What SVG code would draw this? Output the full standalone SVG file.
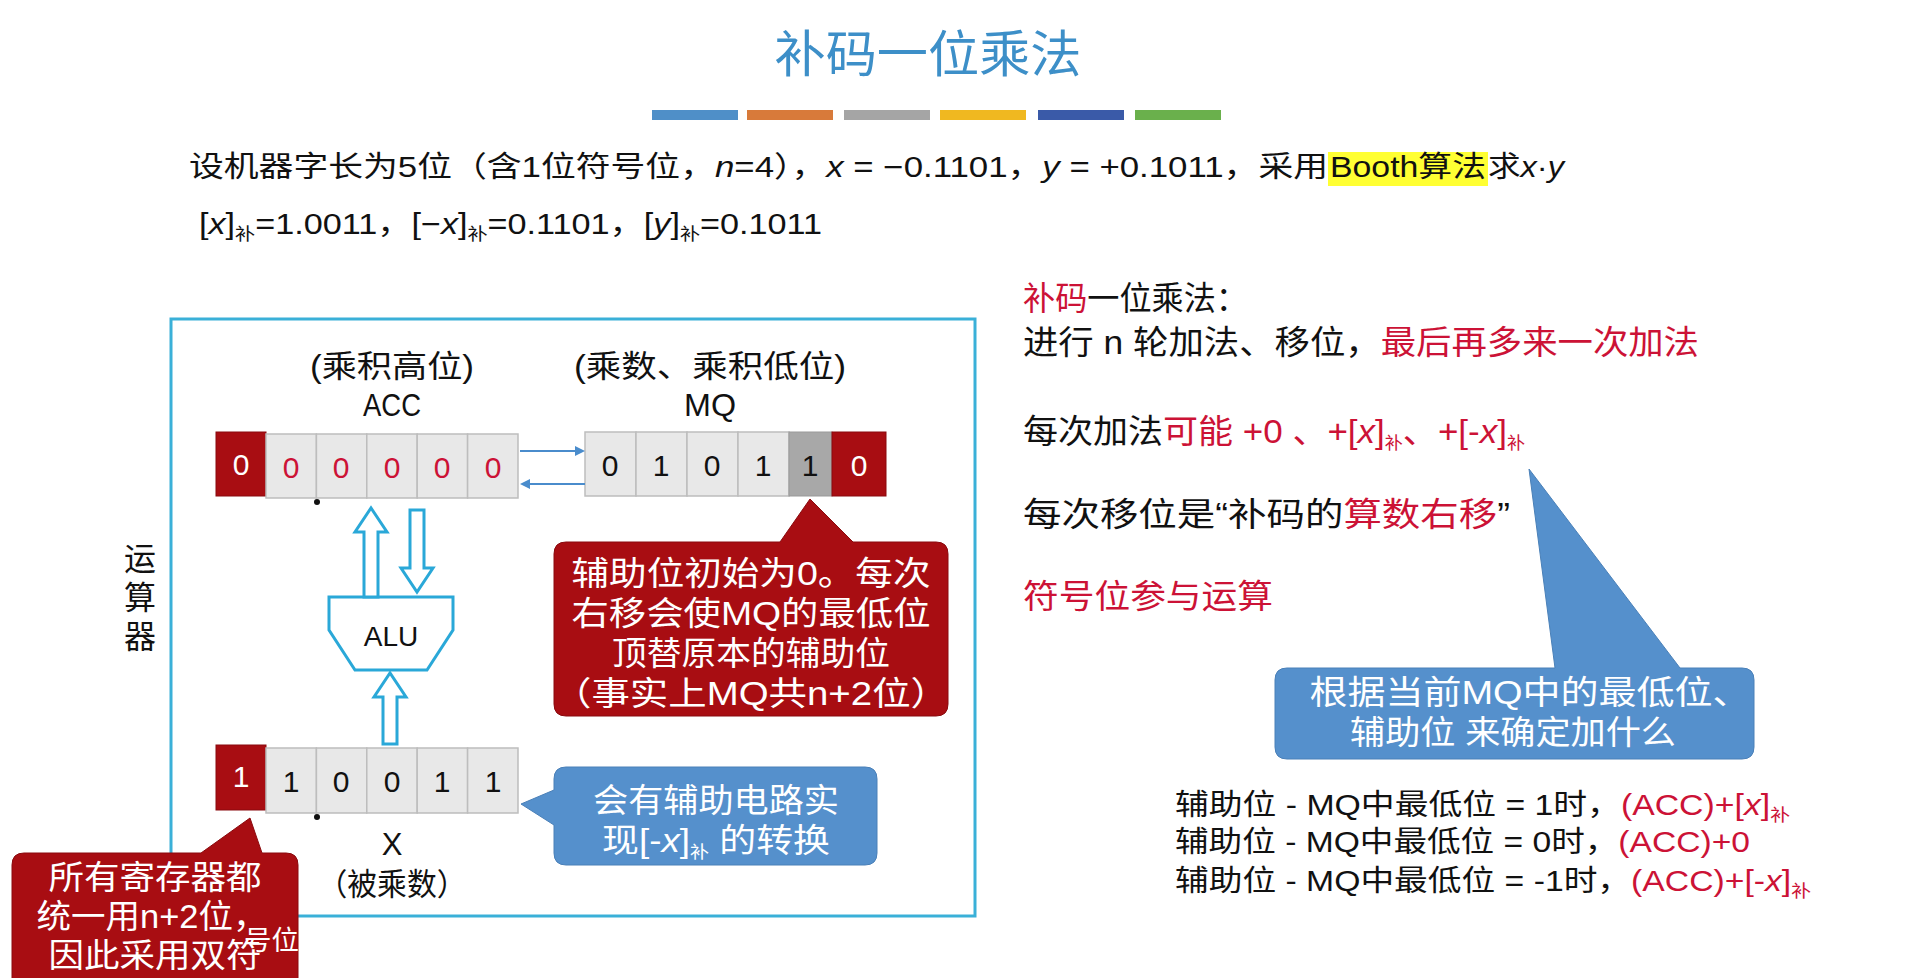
<svg xmlns="http://www.w3.org/2000/svg" width="1910" height="978" viewBox="0 0 1910 978">
<style>
text{font-family:"Liberation Sans","Noto Sans CJK SC",sans-serif;fill:#111}
.t{font-size:29px}
.n{font-size:33px}
.l{font-size:31px}
.k{font-size:33px}
.r{fill:#cc1236}
.w{fill:#fff}
.c{text-anchor:middle}
.cell{fill:#e8e8e8;stroke:#bdbdbd;stroke-width:1.5}
.red{fill:#a80d12;stroke:#8a0a0e;stroke-width:1}
.dig{font-size:30px;text-anchor:middle}
.hol{fill:#fff;stroke:#2aa8d8;stroke-width:3}
.sub{font-size:17px}
</style>
<rect width="1910" height="978" fill="#fff"/>
<g id="title">
<text x="928" y="72" class="c" style="font-size:50px;fill:#3d8fc8" textLength="307" lengthAdjust="spacingAndGlyphs">补码一位乘法</text>
<rect x="652" y="110" width="86" height="10" fill="#4f8fc8"/>
<rect x="747" y="110" width="86" height="10" fill="#d87a3a"/>
<rect x="844" y="110" width="86" height="10" fill="#a5a5a5"/>
<rect x="940" y="110" width="86" height="10" fill="#f0b820"/>
<rect x="1038" y="110" width="86" height="10" fill="#3a5aa8"/>
<rect x="1135" y="110" width="86" height="10" fill="#6ab04c"/>
</g>
<g id="problem">
<rect x="1328" y="152" width="160" height="34" fill="#ffff33"/>
<text x="189" y="177" class="t" textLength="1139" lengthAdjust="spacingAndGlyphs">设机器字长为5位（含1位符号位，<tspan font-style="italic">n</tspan>=4），<tspan font-style="italic">x</tspan> = −0.1101，<tspan font-style="italic">y</tspan> = +0.1011，采用</text>
<text x="1330" y="177" class="t" textLength="156" lengthAdjust="spacingAndGlyphs">Booth算法</text>
<text x="1488" y="177" class="t" textLength="76" lengthAdjust="spacingAndGlyphs">求<tspan font-style="italic">x</tspan>·<tspan font-style="italic">y</tspan></text>
<text x="199" y="234" class="t" textLength="623" lengthAdjust="spacingAndGlyphs">[<tspan font-style="italic">x</tspan>]<tspan class="sub" dy="6">补</tspan><tspan dy="-6">=1.0011，[−</tspan><tspan font-style="italic">x</tspan>]<tspan class="sub" dy="6">补</tspan><tspan dy="-6">=0.1101，[</tspan><tspan font-style="italic">y</tspan>]<tspan class="sub" dy="6">补</tspan><tspan dy="-6">=0.1011</tspan></text>
</g>
<g id="alu-box">
<rect x="171" y="319" width="804" height="597" fill="none" stroke="#3ab0d8" stroke-width="3"/>
<text x="140" y="570" class="c" style="font-size:32px">运</text>
<text x="140" y="609" class="c" style="font-size:32px">算</text>
<text x="140" y="648" class="c" style="font-size:32px">器</text>
</g>
<g id="acc">
<text x="392" y="377" class="c l" textLength="164" lengthAdjust="spacingAndGlyphs">(乘积高位)</text>
<text x="392" y="416" class="c l" textLength="58" lengthAdjust="spacingAndGlyphs">ACC</text>
<rect x="216" y="432" width="50" height="64" class="red"/>
<text x="241" y="475" class="dig w">0</text>
<rect x="266" y="434" width="50.4" height="64" class="cell"/>
<rect x="316.4" y="434" width="50.4" height="64" class="cell"/>
<rect x="366.8" y="434" width="50.4" height="64" class="cell"/>
<rect x="417.2" y="434" width="50.4" height="64" class="cell"/>
<rect x="467.6" y="434" width="50.4" height="64" class="cell"/>
<text x="291" y="478" class="dig r">0</text>
<text x="341" y="478" class="dig r">0</text>
<text x="392" y="478" class="dig r">0</text>
<text x="442" y="478" class="dig r">0</text>
<text x="493" y="478" class="dig r">0</text>
<circle cx="317" cy="502" r="3" fill="#111"/>
</g>
<g id="mq">
<text x="710" y="377" class="c l" textLength="272" lengthAdjust="spacingAndGlyphs">(乘数、乘积低位)</text>
<text x="710" y="416" class="c l" textLength="52" lengthAdjust="spacingAndGlyphs">MQ</text>
<rect x="585" y="432" width="51" height="64" class="cell"/>
<rect x="636" y="432" width="51" height="64" class="cell"/>
<rect x="687" y="432" width="51" height="64" class="cell"/>
<rect x="738" y="432" width="51" height="64" class="cell"/>
<rect x="789" y="432" width="43" height="64" fill="#a8a8a8" stroke="#999"/>
<rect x="832" y="432" width="54" height="64" class="red"/>
<text x="610" y="476" class="dig">0</text>
<text x="661" y="476" class="dig">1</text>
<text x="712" y="476" class="dig">0</text>
<text x="763" y="476" class="dig">1</text>
<text x="810" y="476" class="dig">1</text>
<text x="859" y="476" class="dig w">0</text>
</g>
<g id="alu">
<polygon points="329,597 453,597 453,630 427,670 355,670 329,630" class="hol"/>
<text x="391" y="646" class="c" style="font-size:28px">ALU</text>
</g>
<g id="x-reg">
<rect x="216" y="745" width="50" height="65" class="red"/>
<text x="241" y="787" class="dig w">1</text>
<rect x="266" y="748" width="50.4" height="65" class="cell"/>
<rect x="316.4" y="748" width="50.4" height="65" class="cell"/>
<rect x="366.8" y="748" width="50.4" height="65" class="cell"/>
<rect x="417.2" y="748" width="50.4" height="65" class="cell"/>
<rect x="467.6" y="748" width="50.4" height="65" class="cell"/>
<text x="291" y="792" class="dig">1</text>
<text x="341" y="792" class="dig">0</text>
<text x="392" y="792" class="dig">0</text>
<text x="442" y="792" class="dig">1</text>
<text x="493" y="792" class="dig">1</text>
<circle cx="317" cy="817" r="3" fill="#111"/>
<text x="392" y="855" class="c l">X</text>
<text x="392" y="895" class="c l" textLength="149" lengthAdjust="spacingAndGlyphs">（被乘数）</text>
</g>
<g id="connectors">
<line x1="520" y1="451" x2="578" y2="451" stroke="#4a8ccc" stroke-width="2"/>
<polygon points="585,451 575,446 575,456" fill="#4a8ccc"/>
<line x1="527" y1="484" x2="585" y2="484" stroke="#4a8ccc" stroke-width="2"/>
<polygon points="520,484 530,479 530,489" fill="#4a8ccc"/>
<polygon points="364,597 364,532 355,532 371,508 387,532 378,532 378,597" class="hol"/>
<polygon points="410,510 424,510 424,568 433,568 417,592 401,568 410,568" class="hol"/>
<polygon points="383,744 383,697 374,697 390,673 406,697 397,697 397,744" class="hol"/>
</g>
<g id="callout-aux">
<path d="M566,542 H780 L810,499 L853,542 H936 Q948,542 948,554 V704 Q948,716 936,716 H566 Q554,716 554,704 V554 Q554,542 566,542 Z" fill="#a80d12" stroke="#8a0a0e"/>
<text x="751" y="585" class="c w k" textLength="359" lengthAdjust="spacingAndGlyphs">辅助位初始为0。每次</text>
<text x="751" y="625" class="c w k" textLength="359" lengthAdjust="spacingAndGlyphs">右移会使MQ的最低位</text>
<text x="751" y="665" class="c w k" textLength="278" lengthAdjust="spacingAndGlyphs">顶替原本的辅助位</text>
<text x="751" y="705" class="c w k" textLength="396" lengthAdjust="spacingAndGlyphs">（事实上MQ共n+2位）</text>
</g>
<g id="callout-regs">
<path d="M24,853 H201 L250,818 L262,853 H286 Q298,853 298,865 V990 H12 V865 Q12,853 24,853 Z" fill="#a80d12" stroke="#8a0a0e"/>
<text x="155" y="889" class="c w k" textLength="213" lengthAdjust="spacingAndGlyphs">所有寄存器都</text>
<text x="152" y="928" class="c w k" textLength="231" lengthAdjust="spacingAndGlyphs">统一用n+2位，</text>
<text x="155" y="967" class="c w k" textLength="213" lengthAdjust="spacingAndGlyphs">因此采用双符</text>
<text x="244" y="950" class="w" style="font-size:27px" textLength="55" lengthAdjust="spacingAndGlyphs">号位</text>
</g>
<g id="callout-neg">
<path d="M566,767 H865 Q877,767 877,779 V853 Q877,865 865,865 H566 Q554,865 554,853 V825 L521,804 L554,790 V779 Q554,767 566,767 Z" fill="#5590cc" stroke="#4a80b8"/>
<text x="716" y="812" class="c w k" textLength="246" lengthAdjust="spacingAndGlyphs">会有辅助电路实</text>
<text x="716" y="852" class="c w k" textLength="228" lengthAdjust="spacingAndGlyphs">现[-<tspan font-style="italic">x</tspan>]<tspan class="sub" dy="6">补</tspan><tspan dy="-6"> 的转换</tspan></text>
</g>
<g id="notes">
<text x="1023" y="310" class="n" textLength="225" lengthAdjust="spacingAndGlyphs"><tspan class="r">补码</tspan>一位乘法：</text>
<text x="1023" y="354" class="n" textLength="676" lengthAdjust="spacingAndGlyphs">进行 n 轮加法、移位，<tspan class="r">最后再多来一次加法</tspan></text>
<text x="1023" y="443" class="n" textLength="502" lengthAdjust="spacingAndGlyphs">每次加法<tspan class="r">可能 +0 、+[<tspan font-style="italic">x</tspan>]<tspan class="sub" dy="6">补</tspan><tspan dy="-6">、+[-</tspan><tspan font-style="italic">x</tspan>]<tspan class="sub" dy="6">补</tspan></tspan></text>
<text x="1023" y="526" class="n" textLength="487" lengthAdjust="spacingAndGlyphs">每次移位是“补码的<tspan class="r">算数右移</tspan>”</text>
<text x="1023" y="608" class="n r" textLength="250" lengthAdjust="spacingAndGlyphs">符号位参与运算</text>
</g>
<g id="callout-choose">
<path d="M1287,668 H1555 L1529,469 L1680,668 H1742 Q1754,668 1754,680 V747 Q1754,759 1742,759 H1287 Q1275,759 1275,747 V680 Q1275,668 1287,668 Z" fill="#5590cc" stroke="#4a80b8"/>
<text x="1530" y="704" class="c w k" textLength="441" lengthAdjust="spacingAndGlyphs">根据当前MQ中的最低位、</text>
<text x="1513" y="744" class="c w k" textLength="326" lengthAdjust="spacingAndGlyphs">辅助位 来确定加什么</text>
</g>
<g id="rules">
<text x="1175" y="815" class="t" textLength="615" lengthAdjust="spacingAndGlyphs">辅助位 - MQ中最低位 = 1时，<tspan class="r">(ACC)+[<tspan font-style="italic">x</tspan>]<tspan class="sub" dy="6">补</tspan></tspan></text>
<text x="1175" y="852" class="t" textLength="575" lengthAdjust="spacingAndGlyphs">辅助位 - MQ中最低位 = 0时，<tspan class="r">(ACC)+0</tspan></text>
<text x="1175" y="891" class="t" textLength="636" lengthAdjust="spacingAndGlyphs">辅助位 - MQ中最低位 = -1时，<tspan class="r">(ACC)+[-<tspan font-style="italic">x</tspan>]<tspan class="sub" dy="6">补</tspan></tspan></text>
</g>
</svg>
